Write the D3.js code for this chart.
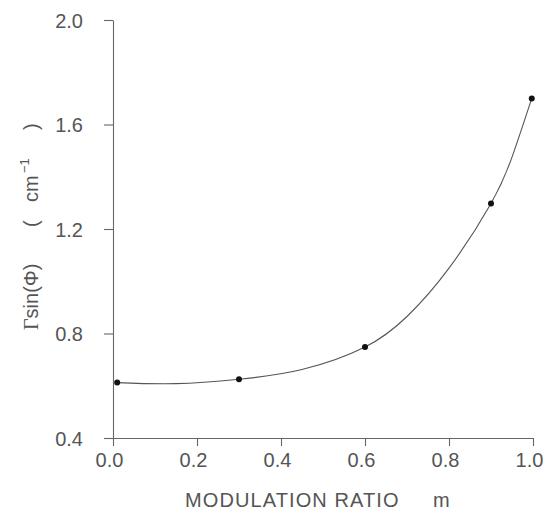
<!DOCTYPE html>
<html>
<head>
<meta charset="utf-8">
<script src="https://cdn.jsdelivr.net/npm/d3@7"></script>
<style>
  body { margin: 0; background: #fff; }
  text { font-family: "Liberation Sans", Arial, sans-serif; fill: #555; }
</style>
</head>
<body>
<svg width="547" height="510"></svg>
<script>
// measured points
const mValues = [0.01, 0.3, 0.6, 0.9, 0.997];
const gammaSin = [0.612, 0.625, 0.748, 1.298, 1.70];
// fitted curve
const curveM = [0.01, 0.15, 0.3, 0.45, 0.6, 0.7, 0.8, 0.9, 0.95, 0.997];
const curveV = [0.612, 0.608, 0.625, 0.662, 0.748, 0.865, 1.05, 1.298, 1.475, 1.70];
const xTicks = [0.0, 0.2, 0.4, 0.6, 0.8, 1.0];
const yTicks = [0.4, 0.8, 1.2, 1.6, 2.0];

const MARGIN = { top: 20, left: 113, right: 14, bottom: 72 };
const WIDTH = 547 - MARGIN.left - MARGIN.right;
const HEIGHT = 510 - MARGIN.top - MARGIN.bottom;

const points = mValues.map((m, i) => ({ m: m, v: gammaSin[i] }));
const curvePts = curveM.map((m, i) => ({ m: m, v: curveV[i] }));

const x = d3.scaleLinear().domain([0, 1]).range([0, WIDTH]);
const y = d3.scaleLinear().domain([0.4, 2.0]).range([HEIGHT, 0]);

const svg = d3.select('svg');
const chart = svg.append('g')
    .attr('transform', `translate(${MARGIN.left}, ${MARGIN.top})`);

// x axis, ticks hanging down
const xAxis = chart.append('g')
    .attr('transform', `translate(0, ${HEIGHT})`)
    .call(d3.axisBottom(x).tickValues(xTicks).tickFormat(d3.format('.1f')).tickSize(8).tickSizeOuter(0).tickPadding(7));

// y axis, ticks to the left
const yAxis = chart.append('g')
    .call(d3.axisLeft(y).tickValues(yTicks).tickFormat(d3.format('.1f')).tickSize(9).tickSizeOuter(0).tickPadding(21));

[xAxis, yAxis].forEach(a => {
    a.selectAll('path, line').attr('stroke', '#666').attr('stroke-width', 1.1);
    a.selectAll('text')
        .attr('font-size', 20)
        .attr('font-family', '"Liberation Sans", Arial, sans-serif')
        .attr('fill', '#666');
});
xAxis.selectAll('text').attr('dx', -4);
yAxis.selectAll('text').attr('dy', '0.36em');

const line = d3.line()
    .x(d => x(d.m))
    .y(d => y(d.v))
    .curve(d3.curveNatural);

chart.append('path')
    .datum(curvePts)
    .attr('fill', 'none')
    .attr('stroke', '#555')
    .attr('stroke-width', 1.1)
    .attr('d', line);

chart.selectAll('.dot')
    .data(points)
    .enter()
    .append('circle')
    .classed('dot', true)
    .attr('cx', d => x(d.m))
    .attr('cy', d => y(d.v))
    .attr('r', 3)
    .attr('fill', '#111');

// axis titles
svg.append('text')
    .attr('x', 185)
    .attr('y', 507)
    .attr('font-size', 20)
    .attr('letter-spacing', 1.1)
    .attr('fill', '#555')
    .text('MODULATION RATIO');

svg.append('text')
    .attr('x', 433)
    .attr('y', 507)
    .attr('font-size', 20)
    .attr('fill', '#555')
    .text('m');

const yTitle = svg.append('text')
    .attr('transform', 'translate(38, 330) rotate(-90)')
    .attr('font-size', 20)
    .attr('fill', '#555');
yTitle.append('tspan').attr('x', 0).attr('font-family', '"Liberation Serif", serif').text('Γ');
yTitle.append('tspan').text('sin(Φ)');
yTitle.append('tspan').attr('x', 103).text('(');
yTitle.append('tspan').attr('x', 128).text('cm');
yTitle.append('tspan').attr('x', 157).attr('font-size', 13).attr('dy', -9).text('−1');
yTitle.append('tspan').attr('x', 200).attr('dy', 9).text(')');
</script>
</body>
</html>
